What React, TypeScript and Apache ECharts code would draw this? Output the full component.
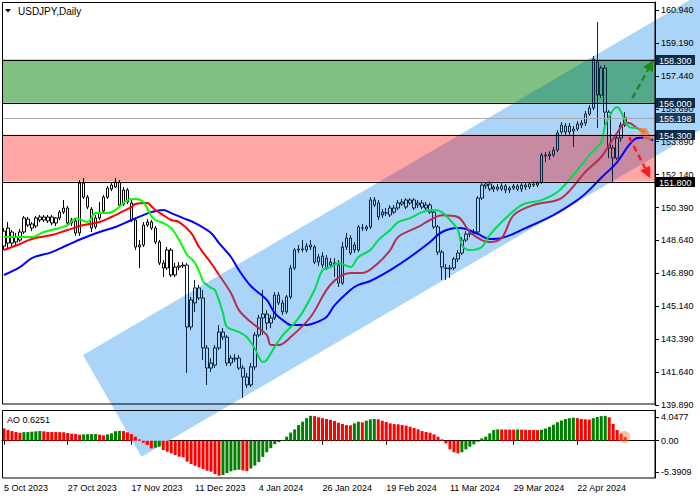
import React, { useEffect, useRef } from 'react';
import * as echarts from 'echarts';

const FONT = 'Liberation Sans, Arial, sans-serif';

// ---------- categories / ticks ----------
const SLOT_COUNT = 164;
const categories = Array.from({ length: SLOT_COUNT }, (_, i) => String(i));
const xTickLabels = ['5 Oct 2023', '27 Oct 2023', '17 Nov 2023', '11 Dec 2023', '4 Jan 2024', '26 Jan 2024', '19 Feb 2024', '11 Mar 2024', '29 Mar 2024', '22 Apr 2024'];
const X_TICK_EVERY = 16;

const yTickLabels = ['160.940', '159.190', '157.440', '155.690', '153.890', '152.140', '150.390', '148.640', '146.890', '145.140', '143.390', '141.640', '139.890'];
const Y_TOP_TICK = 160.94;
const Y_BOTTOM_TICK = 139.89;
const Y_MIN = 139.89;
const Y_MAX = 161.37;

const aoTickValues = [4.0477, 0, -5.3909];
const aoTickLabels = ['4.0477', '0.00', '-5.3909'];
const AO_MIN = -6.45;
const AO_MAX = 5.31;

// ---------- candles: [open, close, low, high] ----------
const candles = [
  [149.16, 148.36, 148.15, 149.32], [148.52, 149.32, 148.26, 149.64], [149.11, 148.52, 148.36, 149.22], [148.58, 148.84, 148.42, 149.06],
  [148.68, 149.11, 148.58, 149.27], [149.11, 149.86, 149.0, 149.96], [149.8, 149.48, 149.38, 149.91], [149.54, 149.32, 149.16, 149.64],
  [149.43, 149.86, 149.32, 149.96], [149.75, 149.91, 149.64, 150.02], [149.91, 149.75, 149.64, 150.02], [149.7, 149.91, 149.59, 150.02],
  [149.91, 149.59, 149.48, 150.02], [149.59, 149.86, 149.43, 149.91], [149.86, 150.17, 149.75, 150.28], [150.17, 150.39, 150.07, 150.82],
  [150.39, 149.59, 149.48, 150.5], [149.59, 149.75, 149.43, 149.86], [149.7, 149.06, 148.9, 149.8], [149.06, 151.72, 148.9, 151.88],
  [151.72, 150.97, 150.87, 151.98], [150.97, 150.44, 150.33, 151.08], [150.33, 149.32, 149.11, 150.44], [149.38, 149.86, 149.27, 150.02],
  [149.86, 150.17, 149.75, 150.71], [150.23, 150.97, 150.12, 151.08], [150.97, 151.45, 150.87, 151.56], [151.4, 151.61, 151.29, 151.72],
  [151.51, 151.77, 151.45, 151.98], [151.77, 150.55, 150.44, 151.88], [150.6, 151.35, 150.5, 151.51], [151.35, 150.71, 150.6, 151.45],
  [150.66, 149.75, 149.64, 150.82], [149.75, 148.31, 148.15, 149.86], [148.31, 148.42, 147.19, 148.68], [148.42, 149.48, 148.31, 149.64],
  [149.48, 149.64, 149.38, 149.8], [149.64, 149.32, 149.22, 149.75], [149.32, 148.58, 148.47, 149.43], [148.58, 147.46, 147.35, 148.68],
  [147.46, 147.19, 146.71, 147.62], [147.19, 148.15, 147.08, 148.31], [148.15, 146.82, 146.71, 148.26], [146.82, 147.24, 146.71, 147.46],
  [147.24, 147.3, 147.08, 147.51], [147.3, 147.35, 147.19, 147.51], [147.35, 144.05, 141.6, 147.46], [144.05, 145.49, 143.89, 145.65],
  [145.33, 146.13, 144.85, 146.55], [146.13, 145.59, 145.49, 146.29], [145.59, 142.93, 142.29, 146.02], [142.93, 141.86, 140.96, 143.09],
  [141.86, 142.13, 141.65, 142.39], [142.02, 142.93, 141.86, 143.09], [142.93, 143.78, 142.82, 144.15], [143.78, 143.51, 143.35, 143.99],
  [143.51, 142.13, 141.97, 143.62], [142.13, 142.39, 141.97, 142.55], [142.34, 142.39, 142.18, 142.61], [142.39, 141.86, 141.76, 142.55],
  [141.86, 141.38, 140.26, 142.02], [141.38, 140.96, 140.8, 141.6], [140.96, 141.92, 140.85, 142.13], [141.92, 143.62, 141.76, 143.78],
  [143.62, 144.53, 143.51, 144.69], [144.53, 144.74, 143.62, 146.02], [144.74, 144.26, 143.89, 144.95], [144.26, 144.53, 143.99, 144.69],
  [144.53, 145.75, 144.42, 145.91], [145.75, 145.33, 145.22, 145.91], [145.33, 144.85, 144.69, 145.49], [144.85, 145.65, 144.74, 145.75],
  [145.65, 147.19, 145.54, 147.35], [147.19, 148.15, 147.08, 148.26], [148.15, 148.2, 147.99, 148.42], [148.2, 148.18, 148.04, 148.68],
  [148.15, 148.36, 148.04, 148.52], [148.31, 148.42, 148.15, 148.68], [148.31, 147.51, 147.4, 148.42], [147.51, 147.78, 147.3, 147.94],
  [147.83, 147.35, 147.19, 148.04], [147.72, 147.19, 147.08, 147.88], [147.51, 147.35, 147.19, 147.72], [147.4, 147.46, 146.71, 147.72],
  [147.35, 146.39, 146.18, 147.62], [146.39, 148.31, 146.29, 148.58], [148.31, 148.79, 148.15, 149.06], [148.79, 147.99, 147.88, 148.95],
  [148.42, 148.15, 147.99, 148.58], [148.15, 149.38, 148.04, 149.48], [149.32, 149.33, 149.16, 149.54], [149.27, 149.38, 149.16, 149.48],
  [149.38, 150.82, 149.27, 150.97], [150.82, 150.55, 150.44, 150.97], [150.66, 149.91, 149.75, 150.82], [150.02, 150.17, 149.86, 150.33],
  [150.12, 150.14, 149.96, 150.39], [150.02, 150.39, 149.91, 150.55], [150.17, 150.39, 150.07, 150.55], [150.39, 150.66, 150.28, 150.82],
  [150.6, 150.71, 150.5, 150.87], [150.44, 150.82, 150.33, 150.92], [150.82, 150.66, 150.55, 150.92], [150.82, 150.39, 150.28, 150.92],
  [150.55, 150.66, 150.39, 150.82], [150.66, 150.44, 150.33, 150.82], [150.39, 150.55, 150.28, 150.71], [150.55, 150.17, 150.07, 150.66],
  [150.17, 149.38, 149.27, 150.28], [149.38, 148.04, 147.88, 149.48], [148.04, 147.24, 146.55, 148.15], [147.19, 147.17, 146.55, 147.4],
  [147.14, 147.19, 146.66, 147.35], [147.19, 147.67, 147.08, 147.78], [147.67, 147.99, 147.51, 148.15], [147.99, 148.68, 147.88, 148.84],
  [148.68, 149.0, 148.58, 149.16], [149.0, 149.06, 148.84, 149.22], [149.06, 149.11, 148.95, 149.27], [149.11, 150.92, 149.0, 151.03],
  [150.92, 151.61, 150.82, 151.72], [151.56, 151.67, 151.4, 151.77], [151.67, 151.4, 151.29, 151.82], [151.4, 151.51, 151.24, 151.61],
  [151.51, 151.4, 151.29, 151.67], [151.4, 151.56, 151.29, 151.72], [151.56, 151.35, 151.19, 151.67], [151.35, 151.45, 151.19, 151.56],
  [151.45, 151.56, 151.35, 151.67], [151.56, 151.4, 151.29, 151.67], [151.4, 151.61, 151.24, 151.72], [151.61, 151.51, 151.35, 151.72],
  [151.51, 151.67, 151.4, 151.77], [151.67, 151.61, 151.51, 151.82], [151.61, 151.72, 151.51, 151.82], [151.77, 153.21, 151.67, 153.32],
  [153.21, 153.16, 152.84, 153.37], [153.16, 153.26, 152.95, 153.42], [153.21, 153.48, 153.11, 153.64], [153.48, 154.39, 153.37, 154.55],
  [154.81, 154.44, 154.33, 154.97], [154.44, 154.76, 154.28, 154.92], [154.76, 154.44, 154.28, 154.92], [154.49, 154.6, 153.64, 154.76],
  [154.6, 154.87, 154.49, 155.02], [154.81, 154.92, 154.65, 155.08], [154.92, 155.4, 154.76, 155.56], [155.4, 155.72, 155.29, 155.88],
  [155.72, 158.33, 155.61, 158.49], [158.17, 156.41, 154.65, 160.3], [156.41, 157.85, 156.25, 157.96], [157.85, 155.5, 154.55, 158.01],
  [155.5, 153.59, 153.05, 155.61], [153.59, 153.05, 151.77, 153.75], [153.05, 154.12, 152.95, 154.28], [154.12, 154.81, 153.91, 154.97],
  [154.81, 155.198, 154.71, 155.51],
];

// ---------- Alligator lines: [barIndex, price] ----------
const jawLine = [
  [0, 146.82], [4, 147.24], [7, 147.72], [12, 148.04], [16, 148.42], [20, 148.79], [24, 149.11], [28, 149.38], [32, 149.75],
  [35, 150.01], [37, 150.17], [40, 150.28], [42, 150.12], [45, 149.85], [48, 149.59], [52, 149.06], [54, 148.52], [57, 147.78],
  [59, 147.08], [62, 146.23], [66, 145.49], [68, 144.79], [71, 144.26], [72, 144.15], [76, 144.15], [78, 144.26], [81, 144.58],
  [83, 145.2], [87, 146.02], [89, 146.29], [92, 146.5], [97, 147.08], [102, 147.78], [107, 148.58], [110, 149.11], [114, 149.32],
  [116, 149.27], [119, 149.01], [122, 148.74], [125, 148.79], [131, 149.32], [138, 150.01], [144, 150.81], [147, 151.35],
  [150, 152.0], [154, 152.84], [157, 153.75], [159, 154.12], [161, 154.15], [163, 154.0],
];
const teethLine = [
  [0, 148.15], [4, 148.47], [7, 148.74], [12, 148.95], [16, 149.22], [20, 149.48], [24, 149.64], [27, 149.91], [29, 150.12],
  [32, 150.44], [33, 150.6], [36, 150.65], [37, 150.49], [38, 150.28], [40, 150.01], [42, 149.75], [44, 149.64], [47, 149.06],
  [49, 148.31], [52, 147.46], [54, 146.82], [57, 145.86], [59, 144.95], [62, 144.31], [66, 143.62], [67, 143.09], [69, 143.09],
  [72, 143.51], [77, 144.58], [82, 146.3], [87, 146.92], [90, 146.92], [94, 147.46], [97, 148.15], [99, 148.85], [104, 149.38],
  [107, 149.75], [110, 150.01], [114, 149.91], [117, 149.11], [120, 148.68], [122, 148.58], [125, 148.79], [128, 150.01],
  [133, 150.55], [140, 150.92], [146, 152.31], [150, 153.11], [152, 153.75], [154, 154.39], [156, 154.92], [157, 154.92],
  [159, 154.65], [161, 154.44],
];
const lipsLine = [
  [0, 148.84], [4, 148.84], [7, 148.84], [10, 149.11], [13, 149.27], [16, 149.48], [18, 149.85], [21, 149.64], [23, 150.12],
  [26, 150.12], [28, 150.28], [31, 150.81], [33, 150.87], [35, 150.71], [37, 149.96], [38, 149.75], [40, 149.59], [42, 149.32],
  [44, 148.68], [46, 147.88], [48, 147.46], [50, 146.45], [52, 146.13], [53, 146.02], [55, 144.79], [56, 144.05], [59, 143.78],
  [61, 143.5], [63, 142.9], [65, 142.18], [66, 142.3], [68, 143.0], [70, 143.6], [73, 144.26], [75, 144.84], [78, 146.02],
  [80, 147.08], [82, 147.24], [84, 147.46], [87, 147.24], [89, 147.78], [92, 148.15], [94, 148.68], [97, 149.22], [99, 149.64],
  [102, 149.85], [105, 150.17], [108, 150.28], [110, 150.17], [112, 149.75], [114, 149.22], [115, 148.42], [117, 148.15],
  [120, 148.31], [122, 148.95], [125, 149.64], [130, 150.55], [135, 150.81], [139, 151.24], [143, 152.15], [147, 153.21],
  [150, 153.91], [151, 154.81], [153, 155.61], [154, 155.77], [155, 155.5], [157, 154.71], [159, 154.65],
];
// bar index where each line enters the channel (its colour darkens there)
const TEETH_CHANNEL_FROM = 54;
const LIPS_CHANNEL_FROM = 50;

// ---------- Awesome Oscillator ----------
const aoValues = [
  2.13, 1.85, 1.67, 1.5, 1.38, 1.48, 1.5, 1.56, 1.61, 1.67, 1.62, 1.52, 1.5, 1.49, 1.48, 1.46, 1.33, 1.21, 1.15, 1.04,
  1.1, 1.12, 1.14, 1.16, 1.04, 0.92, 1.1, 1.27, 1.64, 1.7, 1.67, 1.44, 1.15, 0.69, 0.23, -0.35, -0.75, -1.33, -1.21, -1.04,
  -1.61, -1.9, -2.19, -2.48, -2.77, -2.88, -3.63, -4.04, -4.33, -4.61, -4.9, -5.19, -5.36, -5.77, -6.05, -5.95, -5.6, -5.3, -5.1, -5.02,
  -5.15, -5.25, -4.8, -4.3, -3.7, -2.8, -2.0, -1.3, -0.6, -0.25, 0.1, 0.7, 1.4, 1.95, 2.7, 3.3, 3.9, 4.3, 4.25, 4.05,
  3.9, 3.75, 3.6, 3.4, 3.1, 2.9, 2.7, 2.65, 3.0, 3.29, 3.17, 3.46, 3.69, 3.75, 3.69, 3.46, 3.23, 3.0, 2.88, 2.83,
  2.71, 2.6, 2.42, 2.19, 1.96, 1.67, 1.5, 1.38, 1.1, 0.69, 0.23, -0.46, -1.5, -2.0, -2.19, -2.0, -1.5, -1.04, -0.63, -0.17,
  0.4, 0.69, 1.27, 1.85, 1.96, 1.95, 1.94, 1.93, 1.92, 1.95, 1.91, 1.89, 1.87, 1.85, 1.83, 1.9, 2.1, 2.4, 2.77, 3.2,
  3.5, 3.75, 3.9, 4.0, 3.9, 3.75, 3.7, 3.65, 3.9, 4.1, 4.25, 4.3, 4.05, 2.9, 1.85, 1.2, 0.6251,
];
const AO_CURRENT = '0.6251';

// ---------- drawn objects (data coordinates) ----------
const channelCorners = [[19.84, 142.55], [34.53, 137.13], [180, 155.19], [180, 162.44]];
const greenZone = [156.0, 158.3];
const redZone = [151.8, 154.3];
const levelPrices = [158.3, 156.0, 155.198, 154.3, 151.8];
const levelLabels = ['158.300', '156.000', '155.198', '154.300', '151.800'];
const greenArrow = [[157.8, 156.25], [163.1, 158.28]];
const redArrow = [[157.0, 154.17], [162.3, 151.99]];
const orangeBlob = [[159.05, 154.65], [161.3, 154.65], [162.8, 154.06], [161.06, 153.96]];
const aoMarker = [155.8, 0.64];

// ---------- styles ----------
const C_CHANNEL = '#aad5f9';
const C_GREEN_ZONE = '#80c080';
const C_GREEN_MIX = '#53a98b';
const C_RED_ZONE = '#ffa6a6';
const C_RED_MIX = '#c68aa2';
const C_CANDLE = '#000';
const C_CANDLE_IN_CHANNEL = '#07233d';
const levelLineColors = ['#000', '#000', '#a8a8a8', '#000', '#000'];
const levelTagColors = ['#0b2b4b', '#0b2b4b', '#1d3a58', '#0b2b4b', '#000'];

const yStep = (Y_TOP_TICK - Y_BOTTOM_TICK) / (yTickLabels.length - 1);
const yTickValues = yTickLabels.map((_, k) => Y_TOP_TICK - k * yStep);

// channel bounds in price for a bar (used only to tint candles lying under the channel)
const chSlope = (channelCorners[3][1] - channelCorners[0][1]) / (channelCorners[3][0] - channelCorners[0][0]);
const chUpper = (i: number) => channelCorners[0][1] + (i - channelCorners[0][0]) * chSlope;
const chLower = (i: number) => channelCorners[1][1] + (i - channelCorners[1][0]) * chSlope;
const candleItems = candles.map((c, i) => {
  const mid = (c[0] + c[1]) / 2;
  const inside = i >= 22 && mid <= chUpper(i) && mid >= chLower(i);
  const col = inside ? C_CANDLE_IN_CHANNEL : C_CANDLE;
  return { value: c, itemStyle: { color: 'rgba(255,255,255,0)', color0: col, borderColor: col, borderColor0: col } };
});

const splitBefore = (line: number[][], at: number) => line.filter((p) => p[0] <= at);
const splitAfter = (line: number[][], at: number) => line.filter((p) => p[0] >= at);

function pt(api: any, i: number, p: number) {
  const i0 = Math.floor(i);
  const a = api.coord([i0, p]);
  const b = api.coord([i0 + 1, p]);
  return [a[0] + (b[0] - a[0]) * (i - i0), a[1]];
}

function clipPoly(poly: number[][], x0: number, y0: number, x1: number, y1: number) {
  const planes: [number, number, boolean][] = [[0, x0, true], [0, x1, false], [1, y0, true], [1, y1, false]];
  let out = poly;
  for (const [axis, v, isMin] of planes) {
    const inp = out;
    out = [];
    if (!inp.length) break;
    const inside = (p: number[]) => (isMin ? p[axis] >= v : p[axis] <= v);
    const cross = (a: number[], b: number[]) => {
      const t = (v - a[axis]) / (b[axis] - a[axis]);
      return [a[0] + t * (b[0] - a[0]), a[1] + t * (b[1] - a[1])];
    };
    for (let k = 0; k < inp.length; k++) {
      const cur = inp[k];
      const prev = inp[(k + inp.length - 1) % inp.length];
      const ci = inside(cur);
      const pi = inside(prev);
      if (ci) {
        if (!pi) out.push(cross(prev, cur));
        out.push(cur);
      } else if (pi) {
        out.push(cross(prev, cur));
      }
    }
  }
  return out;
}

function arrow(api: any, seg: number[][], color: string) {
  const s = pt(api, seg[0][0], seg[0][1]);
  const t = pt(api, seg[1][0], seg[1][1]);
  const dx = t[0] - s[0];
  const dy = t[1] - s[1];
  const len = Math.hypot(dx, dy) || 1;
  const ux = dx / len;
  const uy = dy / len;
  const L = 11;
  const W = 5.5;
  const bx = t[0] - ux * L;
  const by = t[1] - uy * L;
  return [
    { type: 'line', shape: { x1: s[0], y1: s[1], x2: bx, y2: by }, style: { stroke: color, lineWidth: 2.5, lineDash: [6, 4], fill: null } },
    { type: 'polygon', shape: { points: [t, [bx - uy * W, by + ux * W], [bx + uy * W, by - ux * W]] }, style: { fill: color } },
  ];
}

const axisText = { color: '#000', fontSize: 9, fontFamily: FONT };

const lineSeries = (name: string, data: number[][], color: string) => ({
  type: 'line', name, xAxisIndex: 0, yAxisIndex: 0, z: 4, data, smooth: 0.35, showSymbol: false,
  lineStyle: { color, width: 2 }, itemStyle: { color },
});

const option: any = {
  animation: false,
  backgroundColor: '#fff',
  grid: [
    { left: 2, top: 2, width: 653, height: 403 },
    { left: 2, top: 410, width: 653, height: 68 },
  ],
  xAxis: [
    { type: 'category', gridIndex: 0, data: categories, boundaryGap: true, show: false },
    {
      type: 'category', gridIndex: 1, data: categories, boundaryGap: true,
      axisLine: { show: true, lineStyle: { color: '#000', width: 1 } },
      axisTick: { show: true, length: 4, alignWithLabel: true, lineStyle: { color: '#000' }, interval: (i: number) => i % X_TICK_EVERY === 0 && i / X_TICK_EVERY < xTickLabels.length },
      axisLabel: {
        ...axisText, margin: 5, align: 'left',
        interval: (i: number) => i % X_TICK_EVERY === 0 && i / X_TICK_EVERY < xTickLabels.length,
        formatter: (v: string) => xTickLabels[Number(v) / X_TICK_EVERY] ?? '',
      },
      splitLine: { show: false },
    },
  ],
  yAxis: [
    {
      type: 'value', gridIndex: 0, position: 'right', min: Y_MIN, max: Y_MAX, z: 10,
      axisLine: { show: true, lineStyle: { color: '#000', width: 1 } },
      axisTick: { show: true, length: 4, lineStyle: { color: '#000' }, customValues: yTickValues },
      axisLabel: {
        ...axisText, margin: 6, customValues: yTickValues,
        formatter: (v: number) => yTickLabels[Math.round((Y_TOP_TICK - v) / yStep)] ?? '',
      },
      splitLine: { show: false },
    },
    {
      type: 'value', gridIndex: 1, position: 'right', min: AO_MIN, max: AO_MAX, z: 10,
      axisLine: { show: true, lineStyle: { color: '#000', width: 1 } },
      axisTick: { show: true, length: 4, lineStyle: { color: '#000' }, customValues: aoTickValues },
      axisLabel: {
        ...axisText, margin: 6, customValues: aoTickValues,
        formatter: (v: number) => {
          let best = 0;
          aoTickValues.forEach((t, k) => { if (Math.abs(t - v) < Math.abs(aoTickValues[best] - v)) best = k; });
          return aoTickLabels[best];
        },
      },
      splitLine: { show: false },
    },
  ],
  series: [
    {
      type: 'custom', name: 'objects', xAxisIndex: 0, yAxisIndex: 0, z: 1, clip: false, silent: true,
      data: [[0, 150]],
      renderItem: (params: any, api: any) => {
        const cs = params.coordSys;
        const x0 = cs.x;
        const x1 = cs.x + cs.width;
        const chan = channelCorners.map((c) => pt(api, c[0], c[1]));
        const gTop = api.coord([0, greenZone[1]])[1];
        const gBot = api.coord([0, greenZone[0]])[1];
        const rTop = api.coord([0, redZone[1]])[1];
        const rBot = api.coord([0, redZone[0]])[1];
        const gMix = clipPoly(chan, x0, gTop, x1, gBot);
        const rMix = clipPoly(chan, x0, rTop, x1, rBot);
        const children: any[] = [
          { type: 'polygon', shape: { points: chan }, style: { fill: C_CHANNEL } },
          { type: 'rect', shape: { x: x0, y: gTop, width: cs.width, height: gBot - gTop }, style: { fill: C_GREEN_ZONE } },
          { type: 'rect', shape: { x: x0, y: rTop, width: cs.width, height: rBot - rTop }, style: { fill: C_RED_ZONE } },
        ];
        if (gMix.length > 2) children.push({ type: 'polygon', shape: { points: gMix }, style: { fill: C_GREEN_MIX } });
        if (rMix.length > 2) children.push({ type: 'polygon', shape: { points: rMix }, style: { fill: C_RED_MIX } });
        return { type: 'group', children };
      },
    },
    {
      type: 'candlestick', name: 'USDJPY', xAxisIndex: 0, yAxisIndex: 0, z: 3, barWidth: 3,
      data: candleItems,
      itemStyle: { color: 'rgba(255,255,255,0)', color0: C_CANDLE, borderColor: C_CANDLE, borderColor0: C_CANDLE, borderWidth: 1 },
    },
    lineSeries('Jaw', jawLine, '#0000ff'),
    lineSeries('Teeth', splitBefore(teethLine, TEETH_CHANNEL_FROM), '#ff0000'),
    lineSeries('Teeth ', splitAfter(teethLine, TEETH_CHANNEL_FROM), '#b3304f'),
    lineSeries('Lips', splitBefore(lipsLine, LIPS_CHANNEL_FROM), '#00ff00'),
    lineSeries('Lips ', splitAfter(lipsLine, LIPS_CHANNEL_FROM), '#00dc50'),
    {
      type: 'custom', name: 'annotations', xAxisIndex: 0, yAxisIndex: 0, z: 15, clip: false, silent: true,
      data: [[0, 150]],
      renderItem: (params: any, api: any) => ({
        type: 'group',
        children: [
          { type: 'polygon', shape: { points: orangeBlob.map((c) => pt(api, c[0], c[1])) }, style: { fill: 'rgba(236,128,56,0.8)' } },
          ...arrow(api, greenArrow, '#1c8a1c'),
          ...arrow(api, redArrow, '#ff1a1a'),
        ],
      }),
    },
    {
      type: 'custom', name: 'levels', xAxisIndex: 0, yAxisIndex: 0, z: 20, clip: false, silent: true,
      data: levelPrices.map((p) => [0, p]),
      renderItem: (params: any, api: any) => {
        const cs = params.coordSys;
        const k = params.dataIndex;
        const y = Math.round(api.coord([0, api.value(1)])[1]) + 0.5;
        const xr = cs.x + cs.width;
        return {
          type: 'group',
          children: [
            { type: 'line', shape: { x1: cs.x, y1: y, x2: xr, y2: y }, style: { stroke: levelLineColors[k], lineWidth: 1 } },
            { type: 'rect', shape: { x: xr + 1, y: y - 5.5, width: 39, height: 10 }, style: { fill: levelTagColors[k] } },
            { type: 'text', x: xr + 4, y: y, style: { text: levelLabels[k], fill: '#fff', font: `9px ${FONT}`, textVerticalAlign: 'middle', textAlign: 'left' } },
          ],
        };
      },
    },
    {
      type: 'bar', name: 'AO', xAxisIndex: 1, yAxisIndex: 1, z: 3, barWidth: 3,
      data: aoValues.map((v, i) => ({ value: v, itemStyle: { color: i > 0 && v > aoValues[i - 1] ? '#008000' : '#ff0000' } })),
    },
    {
      type: 'custom', name: 'aoMarker', xAxisIndex: 1, yAxisIndex: 1, z: 15, clip: false, silent: true,
      data: [[0, 0]],
      renderItem: (params: any, api: any) => {
        const c = pt(api, aoMarker[0], aoMarker[1]);
        return { type: 'circle', shape: { cx: c[0], cy: c[1], r: 6 }, style: { fill: 'rgba(240,125,50,0.45)' } };
      },
    },
  ],
  graphic: {
    elements: [
      { type: 'rect', z: 100, silent: true, shape: { x: 2.5, y: 2.5, width: 652.5, height: 401.5 }, style: { fill: null, stroke: '#000', lineWidth: 1 } },
      { type: 'rect', z: 100, silent: true, shape: { x: 2.5, y: 410.5, width: 652.5, height: 67.5 }, style: { fill: null, stroke: '#000', lineWidth: 1 } },
      { type: 'polygon', z: 100, silent: true, shape: { points: [[5, 9], [11, 9], [8, 12.5]] }, style: { fill: '#000' } },
      { type: 'text', z: 100, silent: true, x: 18, y: 11, style: { text: 'USDJPY,Daily', fill: '#000', font: `10px ${FONT}`, textVerticalAlign: 'middle' } },
      { type: 'text', z: 100, silent: true, x: 7, y: 420, style: { text: `AO ${AO_CURRENT}`, fill: '#000', font: `9px ${FONT}`, textVerticalAlign: 'middle' } },
    ],
  },
};

export default function App() {
  const ref = useRef<HTMLDivElement>(null);
  useEffect(() => {
    const chart = echarts.init(ref.current as HTMLDivElement, null, { renderer: 'svg' });
    chart.setOption(option);
    return () => chart.dispose();
  }, []);
  return <div ref={ref} style={{ position: 'fixed', left: 0, top: 0, width: 700, height: 500, background: '#fff' }} />;
}
